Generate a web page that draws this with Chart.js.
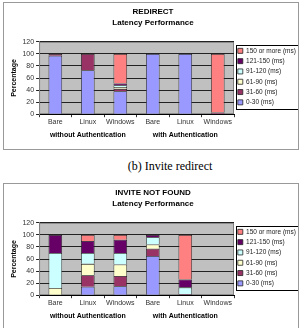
<!DOCTYPE html>
<html>
<head>
<meta charset="utf-8">
<script src="https://cdn.jsdelivr.net/npm/chart.js@4.4.1/dist/chart.umd.min.js"></script>
<style>
  body { margin: 0; background: #fff; width: 304px; height: 328px; overflow: hidden; position: relative; font-family: Arial, "Liberation Sans", sans-serif; }
  .box { position: absolute; left: 3px; width: 294px; height: 146px; border: 1px solid #999; background: #fff; }
  #box1 { top: 2px; }
  #box2 { top: 183px; }
  .caption { position: absolute; top: 159px; left: 0; width: 340px; text-align: center; font-family: "Liberation Serif", "Times New Roman", serif; font-size: 12px; color: #000; }
</style>
</head>
<body>
<div class="box" id="box1"><canvas id="redirect" width="294" height="146"></canvas></div>
<div class="caption">(b) Invite redirect</div>
<div class="box" id="box2"><canvas id="notFound" width="294" height="146"></canvas></div>
<script>
const categories = ["Bare", "Linux", "Windows", "Bare", "Linux", "Windows"];
const groups = ["without Authentication", "with Authentication"];
const ranges = ["0-30 (ms)", "31-60 (ms)", "61-90 (ms)", "91-120 (ms)", "121-150 (ms)", "150 or more (ms)"];
const rangeColors = ["#9999FF", "#993366", "#FFFFCC", "#CCFFFF", "#660066", "#FF8080"];

// REDIRECT - % of requests per latency range
const redirect0to30 = [97, 73, 38, 100, 100, 0];
const redirect31to60 = [3, 27, 4, 0, 0, 3];
const redirect61to90 = [0, 0, 3, 0, 0, 0];
const redirect91to120 = [0, 0, 3, 0, 0, 0];
const redirect121to150 = [0, 0, 3, 0, 0, 0];
const redirect150plus = [0, 0, 49, 0, 0, 97];

// INVITE NOT FOUND
const notFound0to30 = [0, 14, 15, 65, 0, 0];
const notFound31to60 = [0, 19, 17, 12, 2, 0];
const notFound61to90 = [12, 19, 19, 7, 0, 0];
const notFound91to120 = [58, 18, 19, 12, 11, 0];
const notFound121to150 = [30, 20, 22, 4, 13, 0];
const notFound150plus = [0, 10, 8, 0, 74, 0];

const plotDecor = {
  id: "plotDecor",
  beforeDraw(chart) {
    const { ctx, chartArea: a } = chart;
    ctx.save();
    ctx.fillStyle = "#C0C0C0";
    ctx.fillRect(a.left, a.top, a.right - a.left, a.bottom - a.top);
    ctx.strokeStyle = "#808080";
    ctx.lineWidth = 1;
    ctx.strokeRect(a.left + 0.5, a.top + 0.5, a.right - a.left - 1, a.bottom - a.top - 1);
    ctx.restore();
  },
  afterDraw(chart) {
    // box round the legend, like the Excel original
    const boxes = chart.legend.legendHitBoxes;
    if (!boxes || !boxes.length) return;
    const left = Math.min(...boxes.map(b => b.left)) - 2;
    const top = Math.min(...boxes.map(b => b.top)) - 3;
    const right = Math.max(...boxes.map(b => b.left + b.width)) + 2;
    const bottom = Math.max(...boxes.map(b => b.top + b.height)) + 3;
    const ctx = chart.ctx;
    ctx.save();
    ctx.strokeStyle = "#000";
    ctx.lineWidth = 1;
    ctx.strokeRect(Math.round(left) + 0.5, Math.round(top) + 0.5, Math.round(right - left), Math.round(bottom - top));
    ctx.restore();
  }
};

function makeChart(id, title, series) {
  const ctx = document.getElementById(id).getContext("2d");
  return new Chart(ctx, {
    type: "bar",
    data: {
      labels: categories,
      datasets: series.map((s, i) => ({
        label: ranges[i],
        data: s,
        backgroundColor: rangeColors[i],
        borderColor: "#222",
        borderWidth: 0.8,
        barPercentage: 0.42,
        categoryPercentage: 1,
      })),
    },
    options: {
      responsive: false,
      animation: false,
      layout: { padding: { left: 4, right: 0, top: 0, bottom: 7 } },
      plugins: {
        title: {
          display: true,
          text: title,
          color: "#000",
          font: { family: "Arial", size: 8, weight: "bold", lineHeight: 1.3 },
          padding: { top: 4, bottom: 14 },
        },
        legend: {
          position: "right",
          reverse: true,
          maxWidth: 64,
          title: { display: true, text: "", font: { size: 1 }, padding: { top: 3, bottom: 4 } },
          labels: {
            boxWidth: 5,
            boxHeight: 5,
            padding: 3.8,
            color: "#222",
            font: { family: "Arial", size: 6.5 },
          },
        },
        tooltip: { enabled: false },
      },
      scales: {
        x: {
          stacked: true,
          weight: 0,
          grid: { offset: true, drawOnChartArea: false, tickLength: 3, color: "#333" },
          border: { color: "#000" },
          ticks: { color: "#333", font: { family: "Arial", size: 7 }, padding: 1, maxRotation: 0, minRotation: 0, autoSkip: false },
        },
        x2: {
          type: "category",
          labels: groups,
          position: "bottom",
          weight: 1,
          offset: true,
          grid: { display: false, drawTicks: false },
          border: { display: false },
          ticks: { color: "#000", font: { family: "Arial", size: 7, weight: "bold" }, padding: 3, maxRotation: 0, minRotation: 0, autoSkip: false },
        },
        y: {
          stacked: true,
          min: 0,
          max: 120,
          ticks: { stepSize: 20, color: "#333", font: { family: "Arial", size: 7 }, padding: 2 },
          grid: { color: "#222", tickLength: 3 },
          border: { color: "#808080" },
          title: { display: true, text: "Percentage", color: "#000", font: { family: "Arial", size: 7, weight: "bold" }, padding: 2 },
        },
      },
    },
    plugins: [plotDecor],
  });
}

makeChart("redirect", ["REDIRECT", "Latency Performance"],
  [redirect0to30, redirect31to60, redirect61to90, redirect91to120, redirect121to150, redirect150plus]);
makeChart("notFound", ["INVITE NOT FOUND", "Latency Performance"],
  [notFound0to30, notFound31to60, notFound61to90, notFound91to120, notFound121to150, notFound150plus]);
</script>
</body>
</html>
